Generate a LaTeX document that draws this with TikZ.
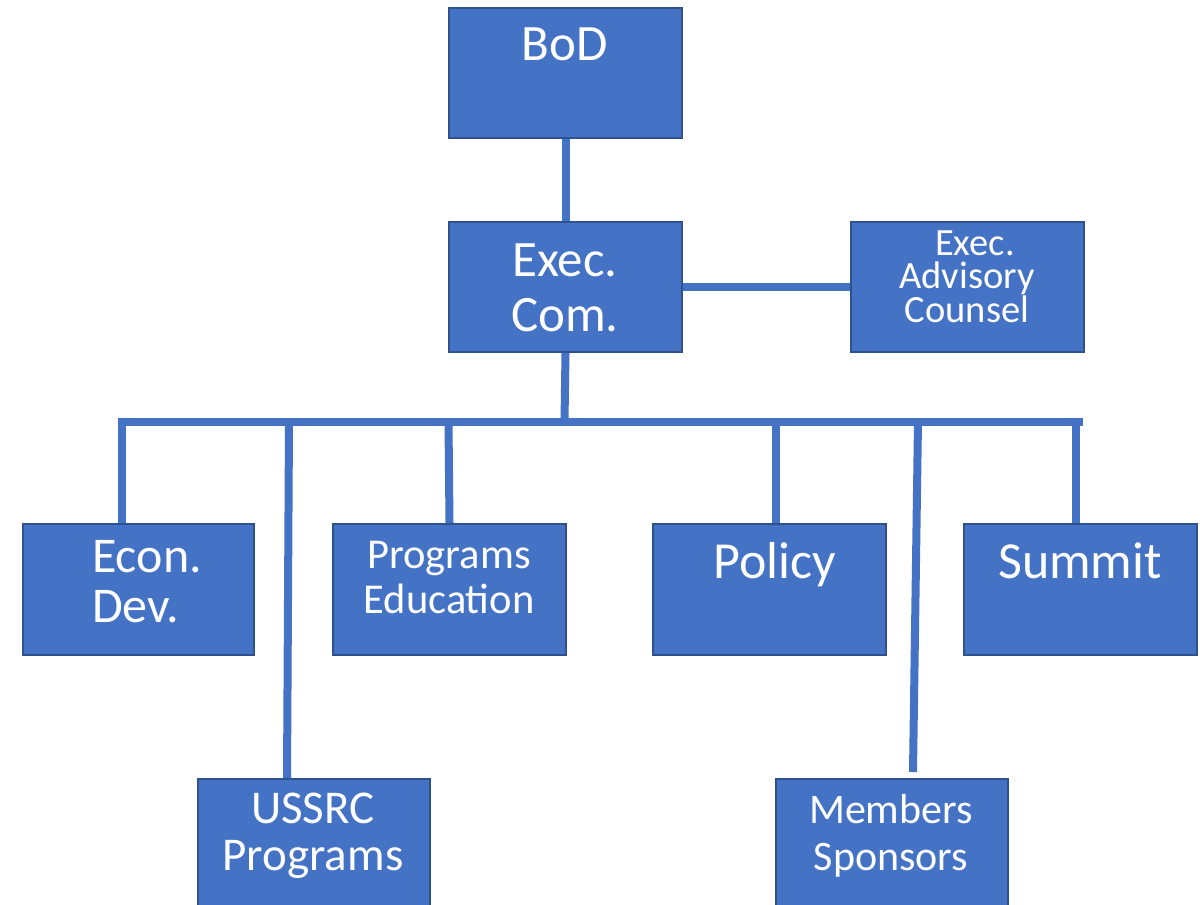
\documentclass[tikz,border=0pt]{standalone}
\usepackage{fontspec}
\setmainfont{Carlito}
\definecolor{boxfill}{HTML}{4472C4}
\definecolor{boxline}{HTML}{2F528F}
\begin{document}
\begin{tikzpicture}[x=1pt,y=-1pt,
  box/.style={draw=boxline,line width=2pt,fill=boxfill,inner sep=0pt,
    minimum width=233pt,minimum height=130pt,anchor=north west},
  lbl/.style={text=white,inner sep=0pt,align=center,anchor=base},
  wire/.style={draw=boxfill,line width=8pt}]
\useasboundingbox (0,0) rectangle (1200,905);
% boxes
\node[box] (bod) at (448,7) {};
\node[box] (exec) at (448,221) {};
\node[box] (adv) at (850,221) {};
\node[box,minimum width=231pt,minimum height=131pt] (econ) at (22,523) {};
\node[box,minimum height=131pt] (prog) at (332,523) {};
\node[box,minimum height=131pt] (policy) at (652,523) {};
\node[box,minimum height=131pt] (summit) at (963,523) {};
\node[box,minimum width=232pt,minimum height=140pt] (ussrc) at (197,778) {};
\node[box,minimum width=232pt,minimum height=140pt] (memb) at (775,778) {};
% bus coordinates
\coordinate (busC) at (564.5,422);
\coordinate (busR) at (1083,422);
\coordinate (tEcon) at (122,422);
\coordinate (tUssrc) at (289,422);
\coordinate (bUssrc) at (287,778);
\coordinate (tProg) at (448.5,422);
\coordinate (tPolicy) at (776,422);
\coordinate (tMemb) at (918,422);
\coordinate (bMemb) at (913,772);
\coordinate (tSummit) at (1076,422);
% connectors
\draw[wire] (bod.south) -- (exec.north);
\draw[wire] (exec.east) -- (adv.west);
\draw[wire] (exec.south) -- (busC);
\draw[wire] (tEcon |- econ.north) -- (tEcon) -- (busR);
\draw[wire] (tUssrc) -- (bUssrc);
\draw[wire] (tProg) -- (prog.north);
\draw[wire] (tPolicy) -- (tPolicy |- policy.north);
\draw[wire] (tMemb) -- (bMemb);
\draw[wire] (tSummit) -- (tSummit |- summit.north);
% texts (anchor base = baseline of the last line)
\node[lbl,font=\fontsize{51pt}{55pt}\selectfont] (bodT) at (565,60) {BoD};
\node[lbl,font=\fontsize{51pt}{55pt}\selectfont] (execT) at (565,331) {Exec.\\Com.};
\node[lbl,font=\fontsize{38.5pt}{33.5pt}\selectfont] (advT) at (967,322) {\hspace*{16pt}Exec.\\Advisory\\Counsel};
\node[lbl,align=left,anchor=base west,font=\fontsize{50pt}{50pt}\selectfont] (econT) at (92,622) {Econ.\\Dev.};
\node[lbl,font=\fontsize{42.5pt}{45pt}\selectfont] (progT) at (449,613) {Programs\\Education};
\node[lbl,font=\fontsize{52pt}{55pt}\selectfont] (policyT) at (775,578) {Policy};
\node[lbl,font=\fontsize{52pt}{55pt}\selectfont] (summitT) at (1080,578) {Summit};
\node[lbl,font=\fontsize{47pt}{47pt}\selectfont] (ussrcT) at (313,870) {USSRC\\Programs};
\node[lbl,font=\fontsize{42pt}{47pt}\selectfont] (membT) at (891,870) {Members\\Sponsors};
\end{tikzpicture}
\end{document}
